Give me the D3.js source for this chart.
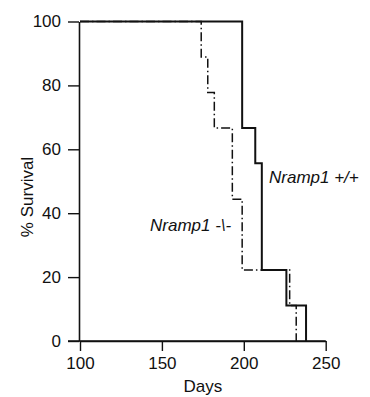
<!DOCTYPE html>
<html>
<head>
<meta charset="utf-8">
<script src="https://cdn.jsdelivr.net/npm/d3@7"></script>
<style>
  html, body { margin: 0; padding: 0; background: #fff; }
  svg { display: block; }
  text { font-family: "Liberation Sans", Arial, sans-serif; fill: #111; }
</style>
</head>
<body>
<div id="chart"></div>
<script>
// ---- data ----
const xTicks = [100, 150, 200, 250];
const yTicks = [0, 20, 40, 60, 80, 100];
// Nramp1 +/+ : event days and survival after each event
const wtDays = [100, 199, 207, 211, 226, 238];
const wtSurvival = [100, 66.7, 55.6, 22.2, 11.1, 0];
// Nramp1 -/- : event days and survival after each event
const koDays = [100, 174, 178, 182, 193, 199, 228, 232];
const koSurvival = [100, 88.9, 77.8, 66.7, 44.4, 22.2, 11.1, 0];
const xLabel = "Days";
const yLabel = "% Survival";

// ---- layout ----
const W = 370, H = 397;
const svg = d3.select("#chart").append("svg").attr("width", W).attr("height", H);

const x = d3.scaleLinear().domain([100, 250]).range([80, 325.7]);
const y = d3.scaleLinear().domain([0, 100]).range([341, 21.5]);

// axes
const xAxis = d3.axisBottom(x).tickValues(xTicks).tickSize(10).tickPadding(6).tickSizeOuter(0);
const yAxis = d3.axisLeft(y).tickValues(yTicks).tickSize(11).tickPadding(7).tickSizeOuter(0);

const gx = svg.append("g").attr("transform", `translate(0,${y(0)})`).call(xAxis);
const gy = svg.append("g").attr("transform", `translate(${x(100) - 1},0)`).call(yAxis);
[gx, gy].forEach(g => {
  g.select(".domain").attr("stroke", "#111").attr("stroke-width", 1.6);
  g.selectAll(".tick line").attr("stroke", "#111").attr("stroke-width", 1.4);
  g.selectAll(".tick text").attr("font-size", 17).attr("fill", "#111")
    .style("font-family", '"Liberation Sans", Arial, sans-serif');
});
// extend the x domain left to meet the y-axis ticks
svg.append("line")
  .attr("x1", x(100) - 12).attr("x2", x(250))
  .attr("y1", y(0)).attr("y2", y(0))
  .attr("stroke", "#111").attr("stroke-width", 1.6);

// axis titles
svg.append("text")
  .attr("x", x(175)).attr("y", 392)
  .attr("text-anchor", "middle").attr("font-size", 17)
  .text(xLabel);
svg.append("text")
  .attr("transform", `translate(33,${197}) rotate(-90)`)
  .attr("text-anchor", "middle").attr("font-size", 17)
  .text(yLabel);

// curves
const line = d3.line()
  .x(d => x(d[0])).y(d => y(d[1]))
  .curve(d3.curveStepAfter);

const koData = koDays.map((d, i) => [d, koSurvival[i]]);
const wtData = wtDays.map((d, i) => [d, wtSurvival[i]]);

svg.append("path")
  .datum(koData)
  .attr("d", line)
  .attr("fill", "none")
  .attr("stroke", "#111")
  .attr("stroke-width", 1.5)
  .attr("stroke-dasharray", "9,3,1.5,3");

svg.append("path")
  .datum(wtData)
  .attr("d", line)
  .attr("fill", "none")
  .attr("stroke", "#111")
  .attr("stroke-width", 2);

// series labels
const lbl1 = svg.append("text")
  .attr("x", 269).attr("y", 183)
  .attr("font-size", 17).attr("font-style", "italic");
lbl1.append("tspan").text("Nramp1 +/+");

const lbl2 = svg.append("text")
  .attr("x", 150).attr("y", 231)
  .attr("font-size", 17).attr("font-style", "italic");
lbl2.append("tspan").text("Nramp1 -\\-");
</script>
</body>
</html>
